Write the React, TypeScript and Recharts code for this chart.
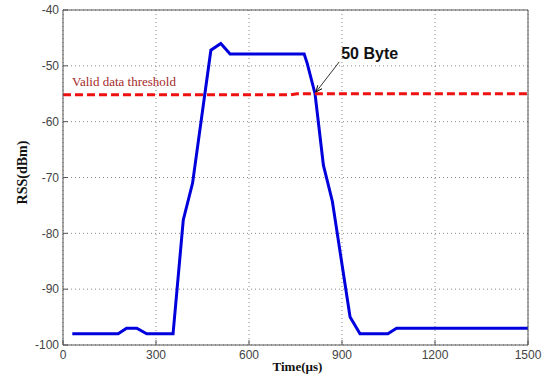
import React from 'react';
import {
    LineChart, Line, XAxis, YAxis, CartesianGrid,
    ReferenceLine, ReferenceDot
} from 'recharts';

// RSS trace of a 50 byte packet
const rssTime = [30, 178, 205, 238, 270, 355, 388, 418, 477, 509, 539, 778, 788, 813, 840, 869, 926, 958, 1048, 1076, 1500];
const rssValue = [-98, -98, -97, -97, -98, -98, -77.6, -71, -47.2, -46, -47.9, -47.9, -49.6, -55, -67.8, -74.3, -95, -98, -98, -97, -97];

// dashed threshold line (tiny step near 740 us)
const thresholdTime = [0, 735, 755, 1500];
const thresholdValue = [-55.2, -55.2, -55, -55];

const xTicks = [0, 300, 600, 900, 1200, 1500];
const yTicks = [-100, -90, -80, -70, -60, -50, -40];

const thresholdText = 'Valid data threshold';
const thresholdTextAt = { x: 29, y: -55 };
const byteText = '50 Byte';
const arrowFrom = { x: 891, y: -49.3 };
const arrowTo = { x: 816, y: -54.7 };

const rssData = rssTime.map((t, i) => ({ x: t, y: rssValue[i] }));
const thresholdData = thresholdTime.map((t, i) => ({ x: t, y: thresholdValue[i] }));

const sans = '"Liberation Sans", Arial, sans-serif';
const serif = '"Liberation Serif", "Times New Roman", serif';
const frame = '#555';

function Arrow(props: any) {
    const { x1, y1, x2, y2 } = props;
    const ang = Math.atan2(y2 - y1, x2 - x1);
    const len = 7;
    const spread = 0.4;
    const ax = x2 - len * Math.cos(ang - spread);
    const ay = y2 - len * Math.sin(ang - spread);
    const bx = x2 - len * Math.cos(ang + spread);
    const by = y2 - len * Math.sin(ang + spread);
    return (
        <g>
            <line x1={x1} y1={y1} x2={x2} y2={y2} stroke="#000" strokeWidth={0.8} />
            <polyline points={`${ax},${ay} ${x2},${y2} ${bx},${by}`} fill="none" stroke="#000" strokeWidth={1} />
            <text x={x1 + 2} y={y1 - 3} fontFamily={sans} fontWeight="bold" fontSize={16} fill="#111">
                {byteText}
            </text>
        </g>
    );
}

export default function App() {
    return (
        <div style={{ position: 'absolute', left: 0, top: 0, width: 552, height: 374, background: '#fff' }}>
            <LineChart
                width={552}
                height={374}
                margin={{ top: 9, right: 23, bottom: 9, left: 23 }}
            >
                <CartesianGrid xAxisId="b" yAxisId="l" stroke="#888" strokeDasharray="1 3" />

                <XAxis
                    xAxisId="b"
                    dataKey="x"
                    type="number"
                    domain={[0, 1500]}
                    ticks={xTicks}
                    allowDataOverflow
                    height={20}
                    stroke={frame}
                    tickSize={-5}
                    tickMargin={10}
                    tick={{ fill: '#444', fontSize: 12, fontFamily: sans }}
                    label={{
                        content: ({ viewBox }: any) => (
                            <text x={viewBox.x + viewBox.width / 2 + 2} y={viewBox.y + 26} textAnchor="middle"
                                fontFamily={serif} fontWeight="bold" fontSize={13} fill="#111">
                                Time(µs)
                            </text>
                        )
                    }}
                />
                <XAxis
                    xAxisId="t"
                    orientation="top"
                    dataKey="x"
                    type="number"
                    domain={[0, 1500]}
                    ticks={xTicks}
                    height={1}
                    stroke={frame}
                    tickSize={-5}
                    tick={false}
                />
                <YAxis
                    yAxisId="l"
                    type="number"
                    domain={[-100, -40]}
                    ticks={yTicks}
                    width={40}
                    stroke={frame}
                    tickSize={-5}
                    tickMargin={9}
                    tick={{ fill: '#444', fontSize: 12, fontFamily: sans }}
                    label={{
                        content: ({ viewBox }: any) => {
                            const cx = viewBox.x + 4;
                            const cy = viewBox.y + viewBox.height / 2 - 5;
                            return (
                                <text x={cx} y={cy} textAnchor="middle" transform={`rotate(-90 ${cx} ${cy})`}
                                    fontFamily={serif} fontWeight="bold" fontSize={14} fill="#111">
                                    RSS(dBm)
                                </text>
                            );
                        }
                    }}
                />
                <YAxis
                    yAxisId="r"
                    orientation="right"
                    type="number"
                    domain={[-100, -40]}
                    ticks={yTicks}
                    width={1}
                    stroke={frame}
                    tickSize={-5}
                    tick={false}
                />

                <Line
                    xAxisId="b"
                    yAxisId="l"
                    data={rssData}
                    dataKey="y"
                    type="linear"
                    stroke="#0000dd"
                    strokeWidth={3}
                    dot={false}
                    isAnimationActive={false}
                />
                <Line
                    xAxisId="b"
                    yAxisId="l"
                    data={thresholdData}
                    dataKey="y"
                    type="linear"
                    stroke="#ee1111"
                    strokeWidth={3}
                    strokeDasharray="8 4"
                    dot={false}
                    isAnimationActive={false}
                />

                <ReferenceDot
                    xAxisId="b"
                    yAxisId="l"
                    x={thresholdTextAt.x}
                    y={thresholdTextAt.y}
                    r={0}
                    fill="none"
                    stroke="none"
                    label={{
                        content: ({ viewBox }: any) => (
                            <text x={viewBox.x} y={viewBox.y - 8} fontFamily={serif} fontSize={13} fill="#a52a2a">
                                {thresholdText}
                            </text>
                        )
                    }}
                />
                <ReferenceLine
                    xAxisId="b"
                    yAxisId="l"
                    segment={[arrowFrom, arrowTo]}
                    shape={Arrow}
                />
            </LineChart>
        </div>
    );
}
